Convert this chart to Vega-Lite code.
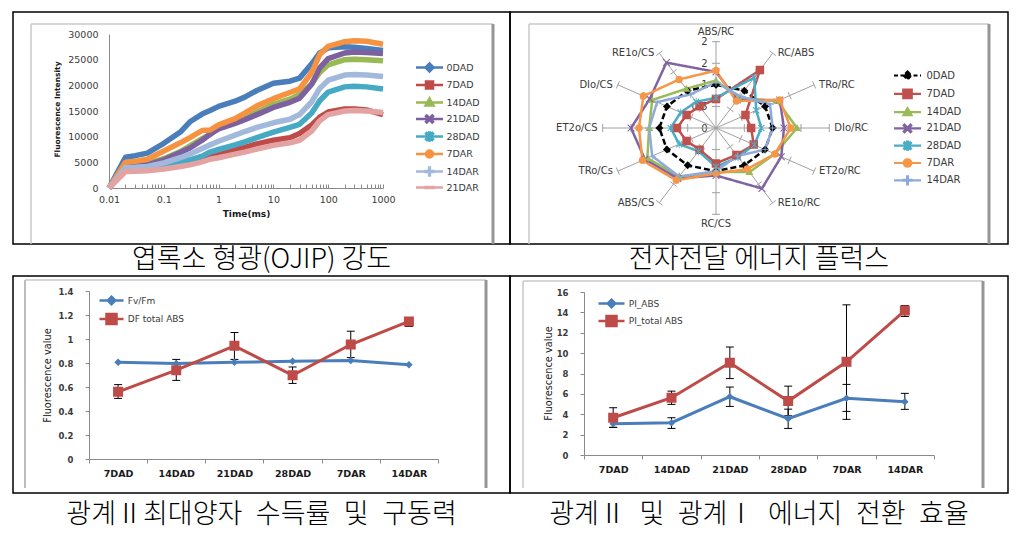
{
"$schema": "https://vega.github.io/schema/vega-lite/v6.json",
"background": "white",
"padding": {"left": 12, "top": 11, "right": 0, "bottom": 0},
"columns": 2,
"spacing": 0,
"bounds": "flush",
"resolve": {"scale": {"color": "independent", "shape": "independent", "strokeDash": "independent", "fill": "independent", "stroke": "independent"}, "legend": {"color": "independent", "shape": "independent", "strokeDash": "independent"}},
"config": {
  "view": {"stroke": "#000000", "strokeWidth": 1.5},
  "font": "DejaVu Sans",
  "axis": {"grid": false, "labelFont": "DejaVu Sans", "titleFont": "DejaVu Sans", "domainColor": "#8a8a8a", "tickColor": "#8a8a8a", "labelColor": "#3a3a3a", "titleColor": "#1a1a1a", "labelFlush": false, "labelOverlap": false},
  "legend": {"labelFont": "DejaVu Sans", "labelColor": "#3a3a3a"}
},
"datasets": {
  "frame": [{"f": 0}],
  "ojip": [
    {"s":"0DAD","t":0.01,"v":0},{"s":"0DAD","t":0.02,"v":6000},{"s":"0DAD","t":0.03,"v":6300},{"s":"0DAD","t":0.05,"v":6800},{"s":"0DAD","t":0.1,"v":8700},{"s":"0DAD","t":0.2,"v":10900},{"s":"0DAD","t":0.3,"v":12900},{"s":"0DAD","t":0.5,"v":14400},{"s":"0DAD","t":0.7,"v":15100},{"s":"0DAD","t":1,"v":15900},{"s":"0DAD","t":2,"v":16900},{"s":"0DAD","t":3,"v":17700},{"s":"0DAD","t":5,"v":19000},{"s":"0DAD","t":10,"v":20400},{"s":"0DAD","t":20,"v":20800},{"s":"0DAD","t":30,"v":21400},{"s":"0DAD","t":50,"v":24200},{"s":"0DAD","t":70,"v":26300},{"s":"0DAD","t":100,"v":27300},{"s":"0DAD","t":200,"v":27500},{"s":"0DAD","t":300,"v":27400},{"s":"0DAD","t":500,"v":27200},{"s":"0DAD","t":1000,"v":26800},
    {"s":"7DAD","t":0.01,"v":0},{"s":"7DAD","t":0.02,"v":3500},{"s":"7DAD","t":0.03,"v":3550},{"s":"7DAD","t":0.05,"v":3650},{"s":"7DAD","t":0.1,"v":3950},{"s":"7DAD","t":0.2,"v":4400},{"s":"7DAD","t":0.3,"v":4800},{"s":"7DAD","t":0.5,"v":5500},{"s":"7DAD","t":0.7,"v":6100},{"s":"7DAD","t":1,"v":6700},{"s":"7DAD","t":2,"v":7400},{"s":"7DAD","t":3,"v":7900},{"s":"7DAD","t":5,"v":8600},{"s":"7DAD","t":10,"v":9300},{"s":"7DAD","t":20,"v":9800},{"s":"7DAD","t":30,"v":10600},{"s":"7DAD","t":50,"v":12300},{"s":"7DAD","t":70,"v":13800},{"s":"7DAD","t":100,"v":14800},{"s":"7DAD","t":200,"v":15400},{"s":"7DAD","t":300,"v":15400},{"s":"7DAD","t":500,"v":15200},{"s":"7DAD","t":1000,"v":14300},
    {"s":"14DAD","t":0.01,"v":0},{"s":"14DAD","t":0.02,"v":4500},{"s":"14DAD","t":0.03,"v":4600},{"s":"14DAD","t":0.05,"v":4800},{"s":"14DAD","t":0.1,"v":5700},{"s":"14DAD","t":0.2,"v":7100},{"s":"14DAD","t":0.3,"v":8200},{"s":"14DAD","t":0.5,"v":9600},{"s":"14DAD","t":0.7,"v":10400},{"s":"14DAD","t":1,"v":11800},{"s":"14DAD","t":2,"v":12900},{"s":"14DAD","t":3,"v":13600},{"s":"14DAD","t":5,"v":14800},{"s":"14DAD","t":10,"v":16300},{"s":"14DAD","t":20,"v":17300},{"s":"14DAD","t":30,"v":18200},{"s":"14DAD","t":50,"v":20300},{"s":"14DAD","t":70,"v":22500},{"s":"14DAD","t":100,"v":24000},{"s":"14DAD","t":200,"v":25000},{"s":"14DAD","t":300,"v":25100},{"s":"14DAD","t":500,"v":25000},{"s":"14DAD","t":1000,"v":24800},
    {"s":"21DAD","t":0.01,"v":0},{"s":"21DAD","t":0.02,"v":4200},{"s":"21DAD","t":0.03,"v":4300},{"s":"21DAD","t":0.05,"v":4500},{"s":"21DAD","t":0.1,"v":5500},{"s":"21DAD","t":0.2,"v":6900},{"s":"21DAD","t":0.3,"v":7800},{"s":"21DAD","t":0.5,"v":9300},{"s":"21DAD","t":0.7,"v":10500},{"s":"21DAD","t":1,"v":11500},{"s":"21DAD","t":2,"v":12600},{"s":"21DAD","t":3,"v":13300},{"s":"21DAD","t":5,"v":14300},{"s":"21DAD","t":10,"v":15700},{"s":"21DAD","t":20,"v":16700},{"s":"21DAD","t":30,"v":17500},{"s":"21DAD","t":50,"v":20200},{"s":"21DAD","t":70,"v":23400},{"s":"21DAD","t":100,"v":25200},{"s":"21DAD","t":200,"v":26300},{"s":"21DAD","t":300,"v":26500},{"s":"21DAD","t":500,"v":26400},{"s":"21DAD","t":1000,"v":26200},
    {"s":"28DAD","t":0.01,"v":0},{"s":"28DAD","t":0.02,"v":3800},{"s":"28DAD","t":0.03,"v":3850},{"s":"28DAD","t":0.05,"v":4000},{"s":"28DAD","t":0.1,"v":4400},{"s":"28DAD","t":0.2,"v":5000},{"s":"28DAD","t":0.3,"v":5500},{"s":"28DAD","t":0.5,"v":6200},{"s":"28DAD","t":0.7,"v":7000},{"s":"28DAD","t":1,"v":7500},{"s":"28DAD","t":2,"v":8400},{"s":"28DAD","t":3,"v":9000},{"s":"28DAD","t":5,"v":9800},{"s":"28DAD","t":10,"v":10900},{"s":"28DAD","t":20,"v":11800},{"s":"28DAD","t":30,"v":12400},{"s":"28DAD","t":50,"v":14600},{"s":"28DAD","t":70,"v":17000},{"s":"28DAD","t":100,"v":18700},{"s":"28DAD","t":200,"v":19700},{"s":"28DAD","t":300,"v":19800},{"s":"28DAD","t":500,"v":19700},{"s":"28DAD","t":1000,"v":19300},
    {"s":"7DAR","t":0.01,"v":0},{"s":"7DAR","t":0.02,"v":5000},{"s":"7DAR","t":0.03,"v":5200},{"s":"7DAR","t":0.05,"v":5600},{"s":"7DAR","t":0.1,"v":7200},{"s":"7DAR","t":0.2,"v":8800},{"s":"7DAR","t":0.3,"v":9800},{"s":"7DAR","t":0.5,"v":11200},{"s":"7DAR","t":0.7,"v":11300},{"s":"7DAR","t":1,"v":12300},{"s":"7DAR","t":2,"v":13500},{"s":"7DAR","t":3,"v":14600},{"s":"7DAR","t":5,"v":16000},{"s":"7DAR","t":10,"v":17400},{"s":"7DAR","t":20,"v":18600},{"s":"7DAR","t":30,"v":19300},{"s":"7DAR","t":50,"v":22500},{"s":"7DAR","t":70,"v":26000},{"s":"7DAR","t":100,"v":27600},{"s":"7DAR","t":200,"v":28500},{"s":"7DAR","t":300,"v":28700},{"s":"7DAR","t":500,"v":28600},{"s":"7DAR","t":1000,"v":28000},
    {"s":"14DAR","t":0.01,"v":0},{"s":"14DAR","t":0.02,"v":4000},{"s":"14DAR","t":0.03,"v":4050},{"s":"14DAR","t":0.05,"v":4200},{"s":"14DAR","t":0.1,"v":4900},{"s":"14DAR","t":0.2,"v":5900},{"s":"14DAR","t":0.3,"v":6600},{"s":"14DAR","t":0.5,"v":7700},{"s":"14DAR","t":0.7,"v":8400},{"s":"14DAR","t":1,"v":9100},{"s":"14DAR","t":2,"v":10300},{"s":"14DAR","t":3,"v":11000},{"s":"14DAR","t":5,"v":11800},{"s":"14DAR","t":10,"v":12700},{"s":"14DAR","t":20,"v":13400},{"s":"14DAR","t":30,"v":14300},{"s":"14DAR","t":50,"v":16800},{"s":"14DAR","t":70,"v":19400},{"s":"14DAR","t":100,"v":21000},{"s":"14DAR","t":200,"v":22000},{"s":"14DAR","t":300,"v":22100},{"s":"14DAR","t":500,"v":22000},{"s":"14DAR","t":1000,"v":21700},
    {"s":"21DAR","t":0.01,"v":0},{"s":"21DAR","t":0.02,"v":3200},{"s":"21DAR","t":0.03,"v":3250},{"s":"21DAR","t":0.05,"v":3350},{"s":"21DAR","t":0.1,"v":3700},{"s":"21DAR","t":0.2,"v":4200},{"s":"21DAR","t":0.3,"v":4500},{"s":"21DAR","t":0.5,"v":5100},{"s":"21DAR","t":0.7,"v":5600},{"s":"21DAR","t":1,"v":5900},{"s":"21DAR","t":2,"v":6600},{"s":"21DAR","t":3,"v":7000},{"s":"21DAR","t":5,"v":7600},{"s":"21DAR","t":10,"v":8300},{"s":"21DAR","t":20,"v":8800},{"s":"21DAR","t":30,"v":9300},{"s":"21DAR","t":50,"v":11100},{"s":"21DAR","t":70,"v":13100},{"s":"21DAR","t":100,"v":14300},{"s":"21DAR","t":200,"v":15000},{"s":"21DAR","t":300,"v":15100},{"s":"21DAR","t":500,"v":15000},{"s":"21DAR","t":1000,"v":14700}
  ],
  "radar": [
    {"s":"0DAD","k":0,"v":1},{"s":"0DAD","k":1,"v":1},{"s":"0DAD","k":2,"v":1},{"s":"0DAD","k":3,"v":1},{"s":"0DAD","k":4,"v":1},{"s":"0DAD","k":5,"v":1},{"s":"0DAD","k":6,"v":1},{"s":"0DAD","k":7,"v":1},{"s":"0DAD","k":8,"v":1},{"s":"0DAD","k":9,"v":1},{"s":"0DAD","k":10,"v":1},{"s":"0DAD","k":11,"v":1},
    {"s":"7DAD","k":0,"v":0.67},{"s":"7DAD","k":1,"v":1.55},{"s":"7DAD","k":2,"v":0.6},{"s":"7DAD","k":3,"v":0.62},{"s":"7DAD","k":4,"v":0.77},{"s":"7DAD","k":5,"v":0.72},{"s":"7DAD","k":6,"v":0.82},{"s":"7DAD","k":7,"v":0.58},{"s":"7DAD","k":8,"v":0.6},{"s":"7DAD","k":9,"v":0.69},{"s":"7DAD","k":10,"v":0.6},{"s":"7DAD","k":11,"v":0.58},
    {"s":"14DAD","k":0,"v":1.1},{"s":"14DAD","k":1,"v":0.8},{"s":"14DAD","k":2,"v":1.25},{"s":"14DAD","k":3,"v":1.43},{"s":"14DAD","k":4,"v":1.2},{"s":"14DAD","k":5,"v":1.18},{"s":"14DAD","k":6,"v":1.02},{"s":"14DAD","k":7,"v":1.3},{"s":"14DAD","k":8,"v":1.4},{"s":"14DAD","k":9,"v":1.18},{"s":"14DAD","k":10,"v":1.3},{"s":"14DAD","k":11,"v":1.05},
    {"s":"21DAD","k":0,"v":1.3},{"s":"21DAD","k":1,"v":0.75},{"s":"21DAD","k":2,"v":1.3},{"s":"21DAD","k":3,"v":1.2},{"s":"21DAD","k":4,"v":1.33},{"s":"21DAD","k":5,"v":1.62},{"s":"21DAD","k":6,"v":1.1},{"s":"21DAD","k":7,"v":1.35},{"s":"21DAD","k":8,"v":1.45},{"s":"21DAD","k":9,"v":1.5},{"s":"21DAD","k":10,"v":1.35},{"s":"21DAD","k":11,"v":1.75},
    {"s":"28DAD","k":0,"v":0.7},{"s":"28DAD","k":1,"v":1.35},{"s":"28DAD","k":2,"v":0.82},{"s":"28DAD","k":3,"v":0.8},{"s":"28DAD","k":4,"v":0.78},{"s":"28DAD","k":5,"v":0.78},{"s":"28DAD","k":6,"v":0.9},{"s":"28DAD","k":7,"v":0.62},{"s":"28DAD","k":8,"v":0.75},{"s":"28DAD","k":9,"v":0.8},{"s":"28DAD","k":10,"v":0.72},{"s":"28DAD","k":11,"v":0.7},
    {"s":"7DAR","k":0,"v":1.33},{"s":"7DAR","k":1,"v":0.72},{"s":"7DAR","k":2,"v":1.3},{"s":"7DAR","k":3,"v":1.32},{"s":"7DAR","k":4,"v":1.2},{"s":"7DAR","k":5,"v":1.1},{"s":"7DAR","k":6,"v":1.05},{"s":"7DAR","k":7,"v":1.4},{"s":"7DAR","k":8,"v":1.5},{"s":"7DAR","k":9,"v":1.36},{"s":"7DAR","k":10,"v":1.48},{"s":"7DAR","k":11,"v":1.3},
    {"s":"14DAR","k":0,"v":1.06},{"s":"14DAR","k":1,"v":0.85},{"s":"14DAR","k":2,"v":1.1},{"s":"14DAR","k":3,"v":1.0},{"s":"14DAR","k":4,"v":1.0},{"s":"14DAR","k":5,"v":0.75},{"s":"14DAR","k":6,"v":1.0},{"s":"14DAR","k":7,"v":1.3},{"s":"14DAR","k":8,"v":1.3},{"s":"14DAR","k":9,"v":1.18},{"s":"14DAR","k":10,"v":1.2},{"s":"14DAR","k":11,"v":0.9}
  ],
  "spokes": [
    {"k":0,"n":"ABS/RC","lv":[0.5,1,1.5,2]},{"k":1,"n":"RC/ABS","lv":[0.5,1,1.5,2]},{"k":2,"n":"TRo/RC","lv":[0.5,1,1.5,2]},{"k":3,"n":"DIo/RC","lv":[0.5,1,1.5,2]},{"k":4,"n":"ET2o/RC","lv":[0.5,1,1.5,2]},{"k":5,"n":"RE1o/RC","lv":[0.5,1,1.5,2]},{"k":6,"n":"RC/CS","lv":[0.5,1,1.5,2]},{"k":7,"n":"ABS/CS","lv":[0.5,1,1.5,2]},{"k":8,"n":"TRo/Cs","lv":[0.5,1,1.5,2]},{"k":9,"n":"ET2o/CS","lv":[0.5,1,1.5,2]},{"k":10,"n":"DIo/CS","lv":[0.5,1,1.5,2]},{"k":11,"n":"RE1o/CS","lv":[0.5,1,1.5,2]}
  ],
  "fv": [
    {"c":"7DAD","s":"Fv/Fm","v":0.806},{"c":"14DAD","s":"Fv/Fm","v":0.795},{"c":"21DAD","s":"Fv/Fm","v":0.806},{"c":"28DAD","s":"Fv/Fm","v":0.814},{"c":"7DAR","s":"Fv/Fm","v":0.82},{"c":"14DAR","s":"Fv/Fm","v":0.786},
    {"c":"7DAD","s":"DF total ABS","v":0.56,"lo":0.505,"hi":0.62},{"c":"14DAD","s":"DF total ABS","v":0.74,"lo":0.655,"hi":0.83},{"c":"21DAD","s":"DF total ABS","v":0.943,"lo":0.83,"hi":1.054},{"c":"28DAD","s":"DF total ABS","v":0.697,"lo":0.63,"hi":0.767},{"c":"7DAR","s":"DF total ABS","v":0.954,"lo":0.845,"hi":1.065},{"c":"14DAR","s":"DF total ABS","v":1.146,"lo":1.104,"hi":1.174}
  ],
  "pi": [
    {"c":"7DAD","s":"PI_ABS","v":3.07,"lo":2.72,"hi":3.42},{"c":"14DAD","s":"PI_ABS","v":3.17,"lo":2.61,"hi":3.66},{"c":"21DAD","s":"PI_ABS","v":5.72,"lo":4.77,"hi":6.67},{"c":"28DAD","s":"PI_ABS","v":3.56,"lo":2.61,"hi":4.5},{"c":"7DAR","s":"PI_ABS","v":5.56,"lo":4.28,"hi":6.93},{"c":"14DAR","s":"PI_ABS","v":5.23,"lo":4.48,"hi":6.05},
    {"c":"7DAD","s":"PI_total ABS","v":3.66,"lo":2.7,"hi":4.64},{"c":"14DAD","s":"PI_total ABS","v":5.62,"lo":4.97,"hi":6.27},{"c":"21DAD","s":"PI_total ABS","v":9.05,"lo":7.5,"hi":10.6},{"c":"28DAD","s":"PI_total ABS","v":5.29,"lo":3.85,"hi":6.76},{"c":"7DAR","s":"PI_total ABS","v":9.15,"lo":3.5,"hi":14.74},{"c":"14DAR","s":"PI_total ABS","v":14.18,"lo":13.6,"hi":14.67}
  ]
},
"concat": [
  {
   "width": 497, "height": 232,
   "resolve": {"scale": {"x": "independent", "y": "independent"}},
   "layer": [
      {"data": {"name": "frame"}, "transform": [{"calculate": "datum.f + 1", "as": "g"}],
       "mark": {"type": "rule", "color": "#c8c8c8", "strokeWidth": 1.5},
       "encoding": {"x": {"field": "f", "type": "quantitative", "scale": {"domain": [0,1], "range": [18,480], "nice": false}, "axis": null},
                    "y": {"field": "f", "type": "quantitative", "scale": {"domain": [0,1], "range": [12,232], "nice": false}, "axis": null},
                    "y2": {"field": "g"}}},
      {"data": {"name": "frame"}, "transform": [{"calculate": "datum.f + 1", "as": "g"}],
       "mark": {"type": "rule", "color": "#c8c8c8", "strokeWidth": 1.5},
       "encoding": {"x": {"field": "f", "type": "quantitative", "scale": {"domain": [0,1], "range": [18,480], "nice": false}, "axis": null},
                    "x2": {"field": "g"},
                    "y": {"field": "f", "type": "quantitative", "scale": {"domain": [0,1], "range": [12,232], "nice": false}, "axis": null}}},
      {"data": {"name": "frame"}, "transform": [{"calculate": "datum.f + 1", "as": "g"}],
       "mark": {"type": "rule", "color": "#959595", "strokeWidth": 3},
       "encoding": {"x": {"field": "g", "type": "quantitative", "scale": {"domain": [0,1], "range": [18,480], "nice": false}, "axis": null},
                    "y": {"field": "f", "type": "quantitative", "scale": {"domain": [0,1], "range": [12,232], "nice": false}, "axis": null},
                    "y2": {"field": "g"}}},
      {"data": {"name": "ojip"},
       "mark": {"type": "line", "strokeWidth": 5.5, "strokeJoin": "round"},
       "encoding": {
        "x": {"field": "t", "type": "quantitative",
              "scale": {"type": "log", "domain": [0.01, 1000], "range": [96, 370], "nice": false},
              "axis": {"orient": "bottom", "offset": -56, "values": [0.01,0.02,0.03,0.04,0.05,0.06,0.07,0.08,0.09,0.1,0.2,0.3,0.4,0.5,0.6,0.7,0.8,0.9,1,2,3,4,5,6,7,8,9,10,20,30,40,50,60,70,80,90,100,200,300,400,500,600,700,800,900,1000],
                       "format": "~g", "labelExpr": "abs(log(datum.value)/LN10 - round(log(datum.value)/LN10)) < 0.001 ? datum.label : ''",
                       "labelFontSize": 9.5, "tickSize": -4, "labelPadding": 10,
                       "title": "Time(ms)", "titleFontSize": 9, "titleFontWeight": "bold", "titleY": 21}},
        "y": {"field": "v", "type": "quantitative",
              "scale": {"domain": [0, 30000], "range": [176, 22], "nice": false, "zero": false},
              "axis": {"orient": "left", "offset": -96, "values": [0,5000,10000,15000,20000,25000,30000], "format": "d",
                       "ticks": false, "labelPadding": 11, "labelFontSize": 9.5,
                       "title": "Fluorescence Intensity", "titleFontSize": 7.5, "titleFontWeight": "bold", "titleX": -48, "titleY": 97}},
        "color": {"field": "s", "type": "nominal",
                  "scale": {"domain": ["0DAD","7DAD","14DAD","21DAD","28DAD","7DAR","14DAR","21DAR"],
                            "range": ["#4A7EBB","#BE4B48","#98B954","#7D60A0","#46AAC5","#F69240","#A3B9DC","#E2A3A2"]},
                  "legend": {"orient": "none", "legendX": 410, "legendY": 49, "title": null, "labelFontSize": 9.5, "symbolSize": 100, "labelOffset": 10.5, "rowPadding": -0.5, "padding": 0,
                    "encoding": {"symbols": {
                      "fill": {"value": {"expr": "['#4A7EBB','#BE4B48','#98B954','#7D60A0','#46AAC5','#F69240','#A3B9DC','#E2A3A2'][indexof(['0DAD','7DAD','14DAD','21DAD','28DAD','7DAR','14DAR','21DAR'], datum.value)]"}},
                      "shape": {"value": {"expr": "['M-2.7,0H2.7M0,-0.8L0.8,0L0,0.8L-0.8,0Z','M-2.7,0H2.7M-0.7,-0.7H0.7V0.7H-0.7Z','M-2.7,0H2.7M0,-0.8L0.8,0.6H-0.8Z','M-2.7,0H2.7M-0.7,-0.55L-0.55,-0.7L0.7,0.55L0.55,0.7ZM0.55,-0.7L0.7,-0.55L-0.55,0.7L-0.7,0.55Z','M-2.7,0H2.7M-0.7,-0.55L-0.55,-0.7L0.7,0.55L0.55,0.7ZM0.55,-0.7L0.7,-0.55L-0.55,0.7L-0.7,0.55ZM-0.08,-0.8H0.08V0.8H-0.08Z','M-2.7,0H2.7M-0.7,0A0.7,0.7 0 1,0 0.7,0A0.7,0.7 0 1,0 -0.7,0Z','M-2.7,0H2.7M-0.8,-0.08H0.8V0.08H-0.8ZM-0.08,-0.8H0.08V0.8H-0.08Z','M-2.7,0H2.7M-0.8,-0.1H0.8V0.1H-0.8Z'][indexof(['0DAD','7DAD','14DAD','21DAD','28DAD','7DAR','14DAR','21DAR'], datum.value)]"}},
                      "strokeWidth": {"value": 2.5},
                      "opacity": {"value": 1}}}}}
       }}
   ]
  },
  {
   "width": 498, "height": 232,
   "resolve": {"scale": {"x": "independent", "y": "independent"}},
   "layer": [
      {"data": {"name": "frame"}, "transform": [{"calculate": "datum.f + 1", "as": "g"}],
       "mark": {"type": "rule", "color": "#c8c8c8", "strokeWidth": 1.5},
       "encoding": {"x": {"field": "f", "type": "quantitative", "scale": {"domain": [0,1], "range": [19,479], "nice": false}, "axis": null},
                    "y": {"field": "f", "type": "quantitative", "scale": {"domain": [0,1], "range": [12,232], "nice": false}, "axis": null},
                    "y2": {"field": "g"}}},
      {"data": {"name": "frame"}, "transform": [{"calculate": "datum.f + 1", "as": "g"}],
       "mark": {"type": "rule", "color": "#c8c8c8", "strokeWidth": 1.5},
       "encoding": {"x": {"field": "f", "type": "quantitative", "scale": {"domain": [0,1], "range": [19,479], "nice": false}, "axis": null},
                    "x2": {"field": "g"},
                    "y": {"field": "f", "type": "quantitative", "scale": {"domain": [0,1], "range": [12,232], "nice": false}, "axis": null}}},
      {"data": {"name": "frame"}, "transform": [{"calculate": "datum.f + 1", "as": "g"}],
       "mark": {"type": "rule", "color": "#959595", "strokeWidth": 3},
       "encoding": {"x": {"field": "g", "type": "quantitative", "scale": {"domain": [0,1], "range": [19,479], "nice": false}, "axis": null},
                    "y": {"field": "f", "type": "quantitative", "scale": {"domain": [0,1], "range": [12,232], "nice": false}, "axis": null},
                    "y2": {"field": "g"}}},
      {"data": {"name": "spokes"},
       "transform": [{"calculate": "datum.k*PI/6", "as": "a"}, {"calculate": "2*sin(datum.a)", "as": "ex"}, {"calculate": "2*cos(datum.a)", "as": "ey"}, {"calculate": "0*datum.k", "as": "z"}],
       "mark": {"type": "rule", "color": "#a0a0a0", "strokeWidth": 1},
       "encoding": {
        "x": {"field": "z", "type": "quantitative", "scale": {"domain": [-2, 2], "range": [92.7, 319.3], "nice": false, "zero": false}, "axis": null},
        "y": {"field": "z", "type": "quantitative", "scale": {"domain": [-2, 2], "range": [202.3, 29.7], "nice": false, "zero": false},
              "axis": {"orient": "left", "offset": -206, "values": [0,0.5,1,1.5,2], "format": "~g", "domain": false, "ticks": false, "labelPadding": 9, "labelFontSize": 10, "labelColor": "#3a3a3a", "title": null}},
        "x2": {"field": "ex"}, "y2": {"field": "ey"}}},
      {"data": {"name": "spokes"},
       "transform": [{"flatten": ["lv"]}, {"calculate": "datum.k*PI/6", "as": "a"},
                     {"calculate": "datum.lv*sin(datum.a)", "as": "cx"}, {"calculate": "datum.lv*cos(datum.a)", "as": "cy"},
                     {"calculate": "4/sqrt(pow(43.15*cos(datum.a),2)+pow(56.65*sin(datum.a),2))", "as": "nn"},
                     {"calculate": "datum.cx - 43.15*cos(datum.a)/56.65*datum.nn", "as": "ax"},
                     {"calculate": "datum.cx + 43.15*cos(datum.a)/56.65*datum.nn", "as": "bx"},
                     {"calculate": "datum.cy + 56.65*sin(datum.a)/43.15*datum.nn", "as": "ay"},
                     {"calculate": "datum.cy - 56.65*sin(datum.a)/43.15*datum.nn", "as": "by"}],
       "mark": {"type": "rule", "color": "#a0a0a0", "strokeWidth": 1},
       "encoding": {
        "x": {"field": "ax", "type": "quantitative", "scale": {"domain": [-2, 2], "range": [92.7, 319.3], "nice": false, "zero": false}, "axis": null},
        "y": {"field": "ay", "type": "quantitative", "scale": {"domain": [-2, 2], "range": [202.3, 29.7], "nice": false, "zero": false}, "axis": null},
        "x2": {"field": "bx"}, "y2": {"field": "by"}}},
      {"data": {"name": "radar"},
       "transform": [{"calculate": "datum.k*PI/6", "as": "a"}, {"calculate": "datum.v*sin(datum.a)", "as": "px"}, {"calculate": "datum.v*cos(datum.a)", "as": "py"}],
       "mark": {"type": "line", "interpolate": "linear-closed", "strokeWidth": 2.5},
       "encoding": {
        "x": {"field": "px", "type": "quantitative", "scale": {"domain": [-2, 2], "range": [92.7, 319.3], "nice": false, "zero": false}, "axis": null},
        "y": {"field": "py", "type": "quantitative", "scale": {"domain": [-2, 2], "range": [202.3, 29.7], "nice": false, "zero": false}, "axis": null},
        "order": {"field": "k", "type": "quantitative"},
        "color": {"field": "s", "type": "nominal",
                  "scale": {"domain": ["0DAD","7DAD","14DAD","21DAD","28DAD","7DAR","14DAR"],
                            "range": ["#000000","#C0504D","#9BBB59","#8064A2","#4BACC6","#F79646","#8EAADB"]},
                  "legend": {"orient": "none", "legendX": 391, "legendY": 57, "title": null, "labelFontSize": 10, "symbolSize": 100, "labelOffset": 12.5, "rowPadding": 0.3, "padding": 0,
                    "encoding": {"symbols": {
                      "fill": {"value": {"expr": "['#000000','#C0504D','#9BBB59','#8064A2','#4BACC6','#F79646','#8EAADB'][indexof(['0DAD','7DAD','14DAD','21DAD','28DAD','7DAR','14DAR'], datum.value)]"}},
                      "shape": {"value": {"expr": "['M-2.7,0H2.7M0,-0.8L0.8,0L0,0.8L-0.8,0Z','M-2.7,0H2.7M-0.85,-0.85H0.85V0.85H-0.85Z','M-2.7,0H2.7M0,-0.8L0.8,0.6H-0.8Z','M-2.7,0H2.7M-0.75,-0.6L-0.6,-0.75L0.75,0.6L0.6,0.75ZM0.6,-0.75L0.75,-0.6L-0.6,0.75L-0.75,0.6Z','M-2.7,0H2.7M-0.7,-0.55L-0.55,-0.7L0.7,0.55L0.55,0.7ZM0.55,-0.7L0.7,-0.55L-0.55,0.7L-0.7,0.55ZM-0.08,-0.8H0.08V0.8H-0.08Z','M-2.7,0H2.7M-0.75,0A0.75,0.75 0 1,0 0.75,0A0.75,0.75 0 1,0 -0.75,0Z','M-2.7,0H2.7M-0.8,-0.08H0.8V0.08H-0.8ZM-0.08,-0.8H0.08V0.8H-0.08Z'][indexof(['0DAD','7DAD','14DAD','21DAD','28DAD','7DAR','14DAR'], datum.value)]"}},
                      "strokeDash": {"value": {"expr": "datum.value === '0DAD' ? [4,2.5] : null"}},
                      "strokeWidth": {"value": 2.2},
                      "opacity": {"value": 1}}}}},
        "strokeDash": {"field": "s", "type": "nominal",
                  "scale": {"domain": ["14DAR","7DAR","28DAD","21DAD","14DAD","7DAD","0DAD"],
                            "range": [[1,0],[1,0],[1,0],[1,0],[1,0],[1,0],[6,3]]},
                  "legend": null}}},
      {"data": {"name": "radar"},
       "transform": [{"calculate": "datum.k*PI/6", "as": "a"}, {"calculate": "datum.v*sin(datum.a)", "as": "px"}, {"calculate": "datum.v*cos(datum.a)", "as": "py"}],
       "mark": {"type": "point", "filled": true, "size": 100, "opacity": 1, "strokeWidth": 0},
       "encoding": {
        "x": {"field": "px", "type": "quantitative", "scale": {"domain": [-2, 2], "range": [92.7, 319.3], "nice": false, "zero": false}, "axis": null},
        "y": {"field": "py", "type": "quantitative", "scale": {"domain": [-2, 2], "range": [202.3, 29.7], "nice": false, "zero": false}, "axis": null},
        "color": {"field": "s", "type": "nominal"},
        "shape": {"field": "s", "type": "nominal",
                  "scale": {"domain": ["14DAR","7DAR","28DAD","21DAD","14DAD","7DAD","0DAD"],
                            "range": [
                             "M-2.7,0H2.7M-0.8,-0.08H0.8V0.08H-0.8ZM-0.08,-0.8H0.08V0.8H-0.08Z",
                             "M-2.7,0H2.7M-0.75,0A0.75,0.75 0 1,0 0.75,0A0.75,0.75 0 1,0 -0.75,0Z",
                             "M-2.7,0H2.7M-0.7,-0.55L-0.55,-0.7L0.7,0.55L0.55,0.7ZM0.55,-0.7L0.7,-0.55L-0.55,0.7L-0.7,0.55ZM-0.08,-0.8H0.08V0.8H-0.08Z",
                             "M-2.7,0H2.7M-0.75,-0.6L-0.6,-0.75L0.75,0.6L0.6,0.75ZM0.6,-0.75L0.75,-0.6L-0.6,0.75L-0.75,0.6Z",
                             "M-2.7,0H2.7M0,-0.8L0.8,0.6H-0.8Z",
                             "M-2.7,0H2.7M-0.85,-0.85H0.85V0.85H-0.85Z",
                             "M-2.7,0H2.7M0,-0.8L0.8,0L0,0.8L-0.8,0Z"]},
                  "legend": null}}},
      {"data": {"name": "spokes"},
       "transform": [{"filter": "datum.k >= 1 && datum.k <= 5"}, {"calculate": "datum.k*PI/6", "as": "a"}, {"calculate": "2*sin(datum.a)", "as": "ex"}, {"calculate": "2*cos(datum.a)", "as": "ey"}],
       "mark": {"type": "text", "align": "left", "baseline": "middle", "dx": 5, "fontSize": 10, "color": "#3a3a3a"},
       "encoding": {"x": {"field": "ex", "type": "quantitative", "scale": {"domain": [-2, 2], "range": [92.7, 319.3], "nice": false, "zero": false}, "axis": null},
                    "y": {"field": "ey", "type": "quantitative", "scale": {"domain": [-2, 2], "range": [202.3, 29.7], "nice": false, "zero": false}, "axis": null},
                    "text": {"field": "n", "type": "nominal"}}},
      {"data": {"name": "spokes"},
       "transform": [{"filter": "datum.k >= 7"}, {"calculate": "datum.k*PI/6", "as": "a"}, {"calculate": "2*sin(datum.a)", "as": "ex"}, {"calculate": "2*cos(datum.a)", "as": "ey"}],
       "mark": {"type": "text", "align": "right", "baseline": "middle", "dx": -5, "fontSize": 10, "color": "#3a3a3a"},
       "encoding": {"x": {"field": "ex", "type": "quantitative", "scale": {"domain": [-2, 2], "range": [92.7, 319.3], "nice": false, "zero": false}, "axis": null},
                    "y": {"field": "ey", "type": "quantitative", "scale": {"domain": [-2, 2], "range": [202.3, 29.7], "nice": false, "zero": false}, "axis": null},
                    "text": {"field": "n", "type": "nominal"}}},
      {"data": {"name": "spokes"},
       "transform": [{"filter": "datum.k == 0 || datum.k == 6"}, {"calculate": "datum.k*PI/6", "as": "a"}, {"calculate": "0*datum.k", "as": "ex"}, {"calculate": "2.22*cos(datum.a)", "as": "ey"}],
       "mark": {"type": "text", "align": "center", "baseline": "middle", "fontSize": 10, "color": "#3a3a3a"},
       "encoding": {"x": {"field": "ex", "type": "quantitative", "scale": {"domain": [-2, 2], "range": [92.7, 319.3], "nice": false, "zero": false}, "axis": null},
                    "y": {"field": "ey", "type": "quantitative", "scale": {"domain": [-2, 2], "range": [202.3, 29.7], "nice": false, "zero": false}, "axis": null},
                    "text": {"field": "n", "type": "nominal"}}}
   ]
  },
  {"width": 497, "height": 32, "data": {"values": [{"c": "엽록소 형광(OJIP) 강도"}]},
   "mark": {"type": "text", "font": "Noto Sans CJK KR", "fontSize": 27, "fontWeight": 300, "color": "#000000", "align": "center", "baseline": "middle"},
   "encoding": {"text": {"field": "c", "type": "nominal"}}},
  {"width": 498, "height": 32, "data": {"values": [{"c": "전자전달 에너지 플럭스"}]},
   "mark": {"type": "text", "font": "Noto Sans CJK KR", "fontSize": 27, "fontWeight": 300, "color": "#000000", "align": "center", "baseline": "middle"},
   "encoding": {"text": {"field": "c", "type": "nominal"}}},
  {
   "width": 497, "height": 217,
   "resolve": {"scale": {"x": "independent", "y": "independent"}},
   "layer": [
      {"data": {"name": "frame"}, "transform": [{"calculate": "datum.f + 1", "as": "g"}],
       "mark": {"type": "rule", "color": "#bdbdbd", "strokeWidth": 2},
       "encoding": {"x": {"field": "f", "type": "quantitative", "scale": {"domain": [0,1], "range": [12,473], "nice": false}, "axis": null},
                    "y": {"field": "f", "type": "quantitative", "scale": {"domain": [0,1], "range": [4,212], "nice": false}, "axis": null},
                    "y2": {"field": "g"}}},
      {"data": {"name": "frame"}, "transform": [{"calculate": "datum.f + 1", "as": "g"}],
       "mark": {"type": "rule", "color": "#c8c8c8", "strokeWidth": 1.5},
       "encoding": {"x": {"field": "f", "type": "quantitative", "scale": {"domain": [0,1], "range": [12,473], "nice": false}, "axis": null},
                    "x2": {"field": "g"},
                    "y": {"field": "f", "type": "quantitative", "scale": {"domain": [0,1], "range": [4,212], "nice": false}, "axis": null}}},
      {"data": {"name": "frame"}, "transform": [{"calculate": "datum.f + 1", "as": "g"}],
       "mark": {"type": "rule", "color": "#959595", "strokeWidth": 3},
       "encoding": {"x": {"field": "g", "type": "quantitative", "scale": {"domain": [0,1], "range": [12,473], "nice": false}, "axis": null},
                    "y": {"field": "f", "type": "quantitative", "scale": {"domain": [0,1], "range": [4,212], "nice": false}, "axis": null},
                    "y2": {"field": "g"}}},
      {"data": {"name": "fv"}, "transform": [{"filter": "isValid(datum.lo)"}],
       "mark": {"type": "rule", "color": "#000000", "strokeWidth": 1},
       "encoding": {
        "x": {"field": "c", "type": "ordinal", "scale": {"type": "band", "domain": ["7DAD","14DAD","21DAD","28DAD","7DAR","14DAR"], "range": [76, 425], "paddingInner": 0, "paddingOuter": 0},
              "axis": {"orient": "bottom", "offset": -34, "tickBand": "extent", "tickSize": 4, "labelPadding": 5, "labelFontSize": 9.5, "labelFontWeight": "bold", "labelColor": "#1a1a1a", "title": null, "labelAngle": 0}},
        "y": {"field": "lo", "type": "quantitative", "scale": {"domain": [0, 1.4], "range": [183, 15], "nice": false, "zero": false},
              "axis": {"orient": "left", "offset": -76, "values": [0,0.2,0.4,0.6,0.8,1,1.2,1.4], "format": "~g", "tickSize": 4, "labelPadding": 12, "labelFontSize": 8.5, "labelFontWeight": "bold",
                       "title": "Fluorescence value", "titleFontSize": 9.8, "titleFontWeight": "normal", "titleX": -37, "titleY": 99}},
        "y2": {"field": "hi"}}},
      {"data": {"name": "fv"}, "transform": [{"filter": "isValid(datum.lo)"}],
       "mark": {"type": "tick", "orient": "horizontal", "size": 8, "thickness": 1, "color": "#000000", "opacity": 1},
       "encoding": {"x": {"field": "c", "type": "ordinal", "scale": {"type": "band", "domain": ["7DAD","14DAD","21DAD","28DAD","7DAR","14DAR"], "range": [76, 425], "paddingInner": 0, "paddingOuter": 0}, "axis": null},
                    "y": {"field": "lo", "type": "quantitative", "scale": {"domain": [0, 1.4], "range": [183, 15], "nice": false, "zero": false}, "axis": null}}},
      {"data": {"name": "fv"}, "transform": [{"filter": "isValid(datum.hi)"}],
       "mark": {"type": "tick", "orient": "horizontal", "size": 8, "thickness": 1, "color": "#000000", "opacity": 1},
       "encoding": {"x": {"field": "c", "type": "ordinal", "scale": {"type": "band", "domain": ["7DAD","14DAD","21DAD","28DAD","7DAR","14DAR"], "range": [76, 425], "paddingInner": 0, "paddingOuter": 0}, "axis": null},
                    "y": {"field": "hi", "type": "quantitative", "scale": {"domain": [0, 1.4], "range": [183, 15], "nice": false, "zero": false}, "axis": null}}},
      {"data": {"name": "fv"},
       "mark": {"type": "line", "strokeWidth": 3},
       "encoding": {
        "x": {"field": "c", "type": "ordinal", "scale": {"type": "band", "domain": ["7DAD","14DAD","21DAD","28DAD","7DAR","14DAR"], "range": [76, 425], "paddingInner": 0, "paddingOuter": 0}, "axis": null},
        "y": {"field": "v", "type": "quantitative", "scale": {"domain": [0, 1.4], "range": [183, 15], "nice": false, "zero": false}, "axis": null},
        "color": {"field": "s", "type": "nominal", "scale": {"domain": ["Fv/Fm","DF total ABS"], "range": ["#4A7EBB","#BE4B48"]},
                  "legend": {"orient": "none", "legendX": 92, "legendY": 18, "title": null, "labelFontSize": 9, "symbolSize": 100, "labelOffset": 9.75, "rowPadding": -1.5, "padding": 0,
                    "encoding": {"symbols": {
                      "fill": {"value": {"expr": "datum.value === 'Fv/Fm' ? '#4A7EBB' : '#BE4B48'"}},
                      "shape": {"value": {"expr": "datum.value === 'Fv/Fm' ? 'M-2.4,0H2.4M0,-0.75L0.75,0L0,0.75L-0.75,0Z' : 'M-2.4,0H2.4M-1,-1H1V1H-1Z'"}},
                      "strokeWidth": {"value": 2.5},
                      "opacity": {"value": 1}}}}}}},
      {"data": {"name": "fv"},
       "mark": {"type": "point", "filled": true, "size": 100, "opacity": 1, "strokeWidth": 0},
       "encoding": {
        "x": {"field": "c", "type": "ordinal", "scale": {"type": "band", "domain": ["7DAD","14DAD","21DAD","28DAD","7DAR","14DAR"], "range": [76, 425], "paddingInner": 0, "paddingOuter": 0}, "axis": null},
        "y": {"field": "v", "type": "quantitative", "scale": {"domain": [0, 1.4], "range": [183, 15], "nice": false, "zero": false}, "axis": null},
        "color": {"field": "s", "type": "nominal"},
        "shape": {"field": "s", "type": "nominal",
                  "scale": {"domain": ["DF total ABS","Fv/Fm"], "range": ["M-2.4,0H2.4M-1,-1H1V1H-1Z", "M-2.4,0H2.4M0,-0.75L0.75,0L0,0.75L-0.75,0Z"]},
                  "legend": null}}}
   ]
  },
  {
   "width": 498, "height": 217,
   "resolve": {"scale": {"x": "independent", "y": "independent"}},
   "layer": [
      {"data": {"name": "frame"}, "transform": [{"calculate": "datum.f + 1", "as": "g"}],
       "mark": {"type": "rule", "color": "#c8c8c8", "strokeWidth": 1.5},
       "encoding": {"x": {"field": "f", "type": "quantitative", "scale": {"domain": [0,1], "range": [13,473], "nice": false}, "axis": null},
                    "y": {"field": "f", "type": "quantitative", "scale": {"domain": [0,1], "range": [5,212], "nice": false}, "axis": null},
                    "y2": {"field": "g"}}},
      {"data": {"name": "frame"}, "transform": [{"calculate": "datum.f + 1", "as": "g"}],
       "mark": {"type": "rule", "color": "#c8c8c8", "strokeWidth": 1.5},
       "encoding": {"x": {"field": "f", "type": "quantitative", "scale": {"domain": [0,1], "range": [13,473], "nice": false}, "axis": null},
                    "x2": {"field": "g"},
                    "y": {"field": "f", "type": "quantitative", "scale": {"domain": [0,1], "range": [5,212], "nice": false}, "axis": null}}},
      {"data": {"name": "frame"}, "transform": [{"calculate": "datum.f + 1", "as": "g"}],
       "mark": {"type": "rule", "color": "#959595", "strokeWidth": 3},
       "encoding": {"x": {"field": "g", "type": "quantitative", "scale": {"domain": [0,1], "range": [13,473], "nice": false}, "axis": null},
                    "y": {"field": "f", "type": "quantitative", "scale": {"domain": [0,1], "range": [5,212], "nice": false}, "axis": null},
                    "y2": {"field": "g"}}},
      {"data": {"name": "pi"},
       "mark": {"type": "rule", "color": "#000000", "strokeWidth": 1},
       "encoding": {
        "x": {"field": "c", "type": "ordinal", "scale": {"type": "band", "domain": ["7DAD","14DAD","21DAD","28DAD","7DAR","14DAR"], "range": [74, 424], "paddingInner": 0, "paddingOuter": 0},
              "axis": {"orient": "bottom", "offset": -38, "tickBand": "extent", "tickSize": 4, "labelPadding": 5, "labelFontSize": 9.5, "labelFontWeight": "bold", "labelColor": "#1a1a1a", "title": null, "labelAngle": 0}},
        "y": {"field": "lo", "type": "quantitative", "scale": {"domain": [0, 16], "range": [179, 16], "nice": false, "zero": false},
              "axis": {"orient": "left", "offset": -74, "values": [0,2,4,6,8,10,12,14,16], "format": "d", "tickSize": 4, "labelPadding": 12, "labelFontSize": 8.5, "labelFontWeight": "bold",
                       "title": "Fluorescence value", "titleFontSize": 9.8, "titleFontWeight": "normal", "titleX": -31, "titleY": 97}},
        "y2": {"field": "hi"}}},
      {"data": {"name": "pi"},
       "mark": {"type": "tick", "orient": "horizontal", "size": 8, "thickness": 1, "color": "#000000", "opacity": 1},
       "encoding": {"x": {"field": "c", "type": "ordinal", "scale": {"type": "band", "domain": ["7DAD","14DAD","21DAD","28DAD","7DAR","14DAR"], "range": [74, 424], "paddingInner": 0, "paddingOuter": 0}, "axis": null},
                    "y": {"field": "lo", "type": "quantitative", "scale": {"domain": [0, 16], "range": [179, 16], "nice": false, "zero": false}, "axis": null}}},
      {"data": {"name": "pi"},
       "mark": {"type": "tick", "orient": "horizontal", "size": 8, "thickness": 1, "color": "#000000", "opacity": 1},
       "encoding": {"x": {"field": "c", "type": "ordinal", "scale": {"type": "band", "domain": ["7DAD","14DAD","21DAD","28DAD","7DAR","14DAR"], "range": [74, 424], "paddingInner": 0, "paddingOuter": 0}, "axis": null},
                    "y": {"field": "hi", "type": "quantitative", "scale": {"domain": [0, 16], "range": [179, 16], "nice": false, "zero": false}, "axis": null}}},
      {"data": {"name": "pi"},
       "mark": {"type": "line", "strokeWidth": 3},
       "encoding": {
        "x": {"field": "c", "type": "ordinal", "scale": {"type": "band", "domain": ["7DAD","14DAD","21DAD","28DAD","7DAR","14DAR"], "range": [74, 424], "paddingInner": 0, "paddingOuter": 0}, "axis": null},
        "y": {"field": "v", "type": "quantitative", "scale": {"domain": [0, 16], "range": [179, 16], "nice": false, "zero": false}, "axis": null},
        "color": {"field": "s", "type": "nominal", "scale": {"domain": ["PI_ABS","PI_total ABS"], "range": ["#4A7EBB","#BE4B48"]},
                  "legend": {"orient": "none", "legendX": 95, "legendY": 21, "title": null, "labelFontSize": 9, "symbolSize": 100, "labelOffset": 10.75, "rowPadding": -2.5, "padding": 0,
                    "encoding": {"symbols": {
                      "fill": {"value": {"expr": "datum.value === 'PI_ABS' ? '#4A7EBB' : '#BE4B48'"}},
                      "shape": {"value": {"expr": "datum.value === 'PI_ABS' ? 'M-2.6,0H2.6M0,-0.75L0.75,0L0,0.75L-0.75,0Z' : 'M-2.6,0H2.6M-1,-1H1V1H-1Z'"}},
                      "strokeWidth": {"value": 2.5},
                      "opacity": {"value": 1}}}}}}},
      {"data": {"name": "pi"},
       "mark": {"type": "point", "filled": true, "size": 100, "opacity": 1, "strokeWidth": 0},
       "encoding": {
        "x": {"field": "c", "type": "ordinal", "scale": {"type": "band", "domain": ["7DAD","14DAD","21DAD","28DAD","7DAR","14DAR"], "range": [74, 424], "paddingInner": 0, "paddingOuter": 0}, "axis": null},
        "y": {"field": "v", "type": "quantitative", "scale": {"domain": [0, 16], "range": [179, 16], "nice": false, "zero": false}, "axis": null},
        "color": {"field": "s", "type": "nominal"},
        "shape": {"field": "s", "type": "nominal",
                  "scale": {"domain": ["PI_total ABS","PI_ABS"], "range": ["M-2.6,0H2.6M-1,-1H1V1H-1Z", "M-2.6,0H2.6M0,-0.75L0.75,0L0,0.75L-0.75,0Z"]},
                  "legend": null}}}
   ]
  },
  {"width": 497, "height": 44, "data": {"values": [{"c": "광계Ⅱ최대양자\u2002수득률\u2002및\u2002구동력"}]},
   "mark": {"type": "text", "font": "Noto Sans CJK KR", "fontSize": 27, "fontWeight": 300, "color": "#000000", "align": "center", "baseline": "middle"},
   "encoding": {"text": {"field": "c", "type": "nominal"}}},
  {"width": 498, "height": 44, "data": {"values": [{"c": "광계Ⅱ\u2002및\u2002광계Ⅰ\u2002에너지\u2002전환\u2002효율"}]},
   "mark": {"type": "text", "font": "Noto Sans CJK KR", "fontSize": 27, "fontWeight": 300, "color": "#000000", "align": "center", "baseline": "middle"},
   "encoding": {"text": {"field": "c", "type": "nominal"}}}
]
}
